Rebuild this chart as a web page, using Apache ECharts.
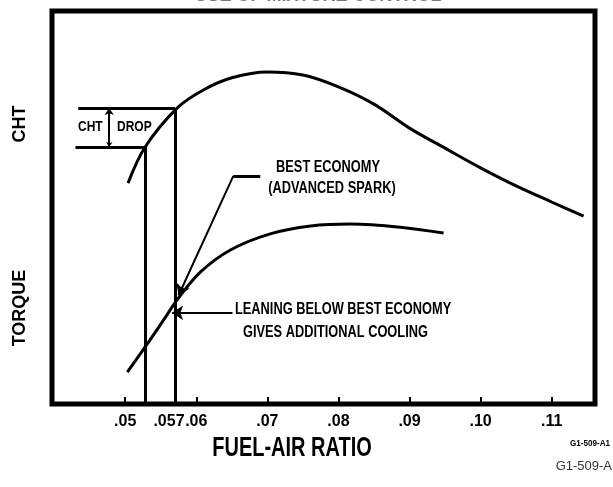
<!DOCTYPE html>
<html>
<head>
<meta charset="utf-8">
<script src="https://cdn.jsdelivr.net/npm/echarts@6/dist/echarts.min.js"></script>
<style>
  html, body { margin: 0; padding: 0; background: #fff; }
  #chart { width: 613px; height: 487px; }
</style>
</head>
<body>
<div id="chart"></div>
<script>
// Fuel-air ratio (x) against relative cylinder head temperature and torque (y, 0-100 scale)
const chtX    = [0.0504, 0.0528, 0.0573, 0.0610, 0.0650, 0.0700, 0.0750, 0.0800, 0.0850, 0.0900, 0.0950, 0.1000, 0.1050, 0.1100, 0.1145];
const chtY    = [56.2,   65.4,   75.3,   79.9,   83.0,   84.5,   83.7,   80.7,   76.3,   70.2,   65.1,   60.1,   55.5,   51.4,   47.8];
const torqueX = [0.0503, 0.0535, 0.0556, 0.0573, 0.0606, 0.0648, 0.0704, 0.0761, 0.0817, 0.0887, 0.0948];
const torqueY = [8.1,    16.3,   21.9,   26.5,   33.6,   39.2,   43.3,   45.3,   45.8,   45.0,   43.5];

// Mixture settings marked with drop lines: leaned point and best economy (.057)
const dropX = [0.0528, 0.057];
const dropY = [65.4,   75.3];

// Axis ticks and labels
const tickValues  = [0.05, 0.06, 0.07, 0.08, 0.09, 0.10, 0.11];
const labelValues = [0.05, 0.057, 0.06, 0.07, 0.08, 0.09, 0.10, 0.11];
const labelTexts  = ['.05', '.057', '.06', '.07', '.08', '.09', '.10', '.11'];

// Annotation leader lines (data coordinates)
const dropBarLeft = [0.0434, 0.0430];   // left ends of the CHT DROP bars
const dropArrowX  = 0.04775;            // double arrow between the bars
const econLeader  = [[0.0690, 58.0], [0.0652, 58.0], [0.0575, 27.6]];
const leanLeader  = [[0.0651, 23.2], [0.0566, 23.2]];

const FONT = "'Liberation Sans Narrow', 'Liberation Sans', Arial, sans-serif";

const zip = (xs, ys) => xs.map((x, i) => [x, ys[i]]);

const plainSegments = [
  // vertical drop lines from the CHT curve down to the axis
  { coords: [[dropX[0], dropY[0]], [dropX[0], 0]] },
  { coords: [[dropX[1], dropY[1]], [dropX[1], 0]] },
  // CHT DROP bars
  { coords: [[dropBarLeft[0], dropY[1]], [dropX[1], dropY[1]]] },
  { coords: [[dropBarLeft[1], dropY[0]], [dropX[0], dropY[0]]] },
  // best economy leader, first leg
  { coords: [econLeader[0], econLeader[1]] }
];

const arrowSegments = [
  { coords: [econLeader[1], econLeader[2]] },
  { coords: [leanLeader[0], leanLeader[1]] }
];

// condensed lettering: horizontal squeeze about the anchor point
function label(text, x, y, size, squeeze, align, extra) {
  return Object.assign({
    type: 'text', x: x, y: y, scaleX: squeeze,
    style: { text: text, align: align || 'center', verticalAlign: 'middle',
             font: 'bold ' + size + 'px ' + FONT, fill: '#000' }
  }, extra || {});
}

const chart = echarts.init(document.getElementById('chart'), null, { renderer: 'canvas' });

chart.setOption({
  animation: false,
  backgroundColor: '#fff',
  grid: {
    left: 52, right: 18, top: 11, bottom: 83,
    show: true, borderColor: '#000', borderWidth: 5, backgroundColor: 'transparent'
  },
  xAxis: {
    type: 'value',
    min: 0.0397, max: 0.1161,
    axisLine: { show: false },
    splitLine: { show: false },
    axisTick: {
      show: true, inside: true, length: 7,
      customValues: tickValues,
      lineStyle: { color: '#000', width: 2 }
    },
    axisLabel: {
      show: true,
      customValues: labelValues,
      margin: 10,
      color: '#000',
      fontFamily: FONT, fontWeight: 'bold', fontSize: 16,
      formatter: function (v) {
        const i = labelValues.findIndex(a => Math.abs(a - v) < 1e-6);
        const t = i >= 0 ? labelTexts[i] : '';
        return t === '.057' ? '{s|' + t + '}' : t;
      },
      rich: { s: { fontFamily: FONT, fontWeight: 'bold', fontSize: 16, color: '#000', padding: [0, 12, 0, 0] } }
    }
  },
  yAxis: {
    type: 'value', min: 0, max: 100,
    show: false
  },
  series: [
    {
      name: 'CHT', type: 'line', data: zip(chtX, chtY),
      smooth: 0.35, symbol: 'none',
      lineStyle: { color: '#000', width: 3 }
    },
    {
      name: 'Torque', type: 'line', data: zip(torqueX, torqueY),
      smooth: 0.35, symbol: 'none',
      lineStyle: { color: '#000', width: 3 }
    },
    {
      type: 'lines', coordinateSystem: 'cartesian2d',
      symbol: ['none', 'none'],
      lineStyle: { color: '#000', width: 3, opacity: 1 },
      data: plainSegments
    },
    {
      type: 'lines', coordinateSystem: 'cartesian2d',
      symbol: ['none', 'arrow'], symbolSize: [7, 11],
      lineStyle: { color: '#000', width: 2, opacity: 1 },
      data: arrowSegments
    },
    {
      type: 'lines', coordinateSystem: 'cartesian2d',
      symbol: ['arrow', 'arrow'], symbolSize: [5, 7],
      lineStyle: { color: '#000', width: 2, opacity: 1 },
      data: [{ coords: [[dropArrowX, dropY[0]], [dropArrowX, dropY[1]]] }]
    }
  ],
  graphic: [
    // heading, mostly above the page edge
    { type: 'text', x: 318, y: 5, style: { text: 'USE OF MIXTURE CONTROL', align: 'center', verticalAlign: 'bottom', font: 'bold 18px ' + FONT, fill: '#777', letterSpacing: 5 } },
    // vertical axis captions
    label('CHT', 20, 124, 18, 1, 'center', { rotation: Math.PI / 2 }),
    label('TORQUE', 20, 308, 18, 1, 'center', { rotation: Math.PI / 2 }),
    // horizontal axis caption
    label('FUEL-AIR RATIO', 292, 449, 27, 0.74),
    // annotations
    label('CHT', 78, 127, 15, 0.8, 'left'),
    label('DROP', 117, 127, 15, 0.8, 'left'),
    label('BEST ECONOMY', 328, 168, 16, 0.8),
    label('(ADVANCED SPARK)', 332, 189, 16, 0.8),
    label('LEANING BELOW BEST ECONOMY', 235, 310, 16, 0.8, 'left'),
    label('GIVES ADDITIONAL COOLING', 243, 333, 16, 0.8, 'left'),
    // drawing numbers
    label('G1-509-A1', 610, 444, 9, 0.9, 'right'),
    { type: 'text', x: 612, y: 466, style: { text: 'G1-509-A', align: 'right', verticalAlign: 'middle', font: '13px ' + FONT, fill: '#333' } }
  ]
});
</script>
</body>
</html>
